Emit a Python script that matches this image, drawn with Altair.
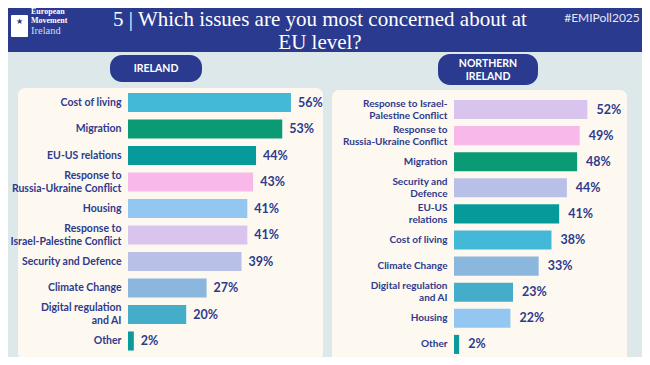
import altair as alt
import pandas as pd

# ---------------- data ----------------
issues = ["Cost of living", "Migration", "EU-US relations",
          "Response to Russia-Ukraine Conflict", "Housing",
          "Response to Israel-Palestine Conflict", "Security and Defence",
          "Climate Change", "Digital regulation and AI", "Other"]
issue_colors = ["#44b8d7", "#0a9a74", "#079a9b", "#f8b9ea", "#93c6f0",
                "#d9c4ee", "#b8c0e7", "#8bb6dd", "#44adca", "#0a9a9a"]

ie_issues = ["Cost of living", "Migration", "EU-US relations",
             "Response to Russia-Ukraine Conflict", "Housing",
             "Response to Israel-Palestine Conflict", "Security and Defence",
             "Climate Change", "Digital regulation and AI", "Other"]
ie_labels = ["Cost of living", "Migration", "EU-US relations",
             "Response to|Russia-Ukraine Conflict", "Housing",
             "Response to|Israel-Palestine Conflict", "Security and Defence",
             "Climate Change", "Digital regulation|and AI", "Other"]
ie_values = [56, 53, 44, 43, 41, 41, 39, 27, 20, 2]

ni_issues = ["Response to Israel-Palestine Conflict",
             "Response to Russia-Ukraine Conflict", "Migration",
             "Security and Defence", "EU-US relations", "Cost of living",
             "Climate Change", "Digital regulation and AI", "Housing", "Other"]
ni_labels = ["Response to Israel-|Palestine Conflict",
             "Response to|Russia-Ukraine Conflict", "Migration",
             "Security and|Defence", "EU-US|relations", "Cost of living",
             "Climate Change", "Digital regulation|and AI", "Housing", "Other"]
ni_values = [52, 49, 48, 44, 41, 38, 33, 23, 22, 2]

title_lines = ["5 | Which issues are you most concerned about at", "EU level?"]
hashtag = "#EMIPoll2025"
panel_titles = [["IRELAND"], ["NORTHERN", "IRELAND"]]
logo_lines = ["European", "Movement", "Ireland"]

# ---------------- styles ----------------
NAVY = "#2e3a8c"
HEADER = "#2a3a8e"
BG = "#dce8ea"
CREAM = "#fdf9f1"
W, H = 634, 349

dummy = pd.DataFrame({"d": [0]})


def box(x, x2, y, y2, color, r=0):
    return alt.Chart(dummy).mark_rect(color=color, cornerRadius=r).encode(
        x=alt.value(x), x2=alt.value(x2), y=alt.value(y), y2=alt.value(y2))


def label(text, x, y, **kw):
    return alt.Chart(dummy).mark_text(text=text, **kw).encode(
        x=alt.value(x), y=alt.value(y))


color = alt.Color("issue:N", scale=alt.Scale(domain=issues, range=issue_colors),
                  legend=None)


def panel(iss, labs, vals, xrange, yrange, pin, orient, offset, align,
          fsize, lh, dx):
    df = pd.DataFrame({"issue": iss, "label": labs, "value": vals})
    y = alt.Y("label:N",
              scale=alt.Scale(domain=labs, range=yrange, paddingInner=pin,
                              paddingOuter=pin / 2),
              axis=alt.Axis(orient=orient, offset=offset, zindex=2,
                            labelExpr="split(datum.label, '|')",
                            labelOffset={"condition": {
                                "test": "indexof(datum.label, '|') >= 0",
                                "value": -lh / 2}, "value": 0},
                            domain=False, ticks=False, tickSize=0, grid=False,
                            labelPadding=0, title=None, labelAlign=align,
                            labelBaseline="middle",
                            labelFont="Lato", labelFontWeight="bold",
                            labelFontSize=fsize, labelColor=NAVY,
                            labelLineHeight=lh, labelLimit=250))
    x = alt.X("value:Q", scale=alt.Scale(domain=[0, 100], range=xrange),
              axis=None)
    base = alt.Chart(df)
    bars = base.mark_bar().encode(x=x, y=y, color=color)
    txt = base.transform_calculate(pct="datum.value + '%'").mark_text(
        align="left", baseline="middle", dx=dx, font="Lato",
        fontWeight="bold", fontSize=12.5, color=NAVY).encode(
        x=x, y=y, text="pct:N")
    return alt.layer(bars, txt)


ie = panel(ie_issues, ie_labels, ie_values, [120, 411], [81.25, 346.25],
           0.28, "left", -113, "right", 10.5, 13, 7)
ni = panel(ni_issues, ni_labels, ni_values, [446, 702.5], [88.45, 349.45],
           0.27, "right", -195, "right", 10, 12, 9)

decor = [
    box(0, W, 0, 44, HEADER),
    box(10, 315, 80, 352, CREAM, 7),
    box(324, 619, 82, 355, CREAM, 7),
    box(102, 194, 47, 74, HEADER, 12),
    box(430, 530, 46, 77, HEADER, 12),
    # logo
    box(3, 20, 7, 29, "#ffffff", 1),
]

texts = [
    label(title_lines, 312, 18, font="Liberation Serif", fontSize=21,
          color="white", align="center", baseline="alphabetic", lineHeight=23),
    label(hashtag, 594, 10, font="Lato", fontSize=12, color="#e4e7f4",
          align="center", baseline="middle"),
    label(panel_titles[0], 148, 61, font="Lato", fontWeight="bold",
          fontSize=10.5, color="white", align="center", baseline="middle"),
    label(panel_titles[1], 480, 56, font="Lato", fontWeight="bold",
          fontSize=10.5, color="white", align="center", baseline="middle",
          lineHeight=13),
    label("★", 11, 14, fontSize=8, color=HEADER, align="center",
          baseline="middle"),
    label(logo_lines[0], 23, 4, font="Liberation Serif", fontWeight="bold",
          fontSize=8, color="white", align="left", baseline="middle"),
    label(logo_lines[1], 23, 13, font="Liberation Serif", fontWeight="bold",
          fontSize=8, color="white", align="left", baseline="middle"),
    label(logo_lines[2], 23, 23, font="Liberation Serif", fontSize=10.5,
          color="#d8dcf0", align="left", baseline="middle"),
]

chart = alt.layer(*decor, ie, ni, *texts).resolve_scale(
    x="independent", y="independent").resolve_axis(
    x="independent", y="independent").properties(
    width=W, height=H, autosize=alt.AutoSizeParams(type="none"),
    padding=0, background=BG).configure_view(stroke=None)

chart.save("out.html", embed_options={"renderer": "svg", "actions": False})
